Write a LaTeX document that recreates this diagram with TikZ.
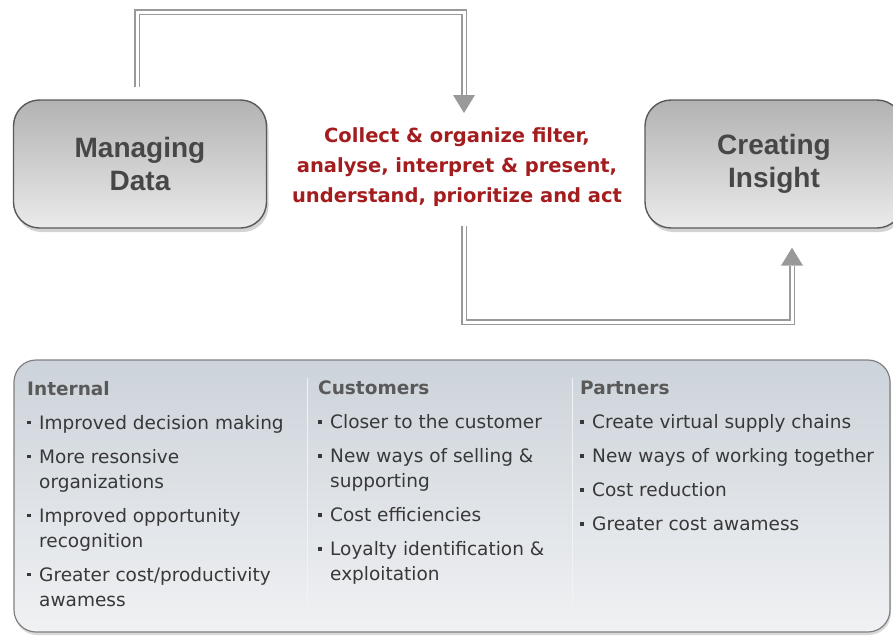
\documentclass[tikz,border=0pt]{standalone}
\usepackage{fontspec}
\setmainfont{Liberation Sans}
\newfontfamily\panelfont{DejaVu Sans}
\usetikzlibrary{calc,shadows}
\definecolor{actred}{RGB}{163,28,30}
\definecolor{paneltop}{RGB}{204,211,218}
\definecolor{panelbot}{RGB}{240,241,243}
\def\bul{\makebox[12pt][l]{\rule[5pt]{3.5pt}{3.5pt}}}
\def\cont{\hspace*{12pt}}

\begin{document}
\begin{tikzpicture}[x=1pt,y=-1pt,
	stagebox/.style={draw=black!65, line width=1.4pt, rounded corners=26pt,
		top color=black!30, bottom color=black!8, minimum width=253pt, minimum height=128pt,
		align=center, font=\bfseries\fontsize{28}{33}\selectfont, text=black!72,
		drop shadow={shadow xshift=2pt, shadow yshift=-4pt, opacity=0.35}},
	pipe/.style={draw=black!40, double=white, double distance=3pt, line width=1.6pt},
	tipgray/.style={fill=black!40},
	colbox/.style={anchor=north west, inner sep=0pt, align=left, text=black!78,
		font=\panelfont\fontsize{18.5}{25}\selectfont}]
			%%%%% START %%%%%
			\useasboundingbox (0,0) rectangle (893,637);
			
			\node[stagebox] (mgmt) at (140,164) {Managing\\Data};
			\node[stagebox, minimum width=258pt] (insight) at (774,164) {Creating\\Insight};
			
			\node[align=center, text=actred, font=\panelfont\bfseries\fontsize{19.5}{30}\selectfont] (proc) at (457,167)
				{Collect \& organize filter,\\analyse, interpret \& present,\\understand, prioritize and act};
			
			% upper connector
			\coordinate (topstart) at ($(mgmt.north)+(-3,-12)$);
			\coordinate (topend) at (464,95);
			\draw[pipe] (topstart) |- (464,12) -- (topend);
			\fill[tipgray] ($(topend)+(-11,0)$) -- ($(topend)+(11,0)$) -- ($(topend)+(0,18)$) -- cycle;
			
			% lower connector
			\coordinate (lowstart) at (464,226);
			\coordinate (lowend) at ($(insight.south -| 792,0)+(0,37)$);
			\draw[pipe] (lowstart) |- (792,322) -- (lowend);
			\fill[tipgray] ($(lowend)+(-11,0)$) -- ($(lowend)+(11,0)$) -- ($(lowend)+(0,-18)$) -- cycle;
			
			% lower panel
			\draw[draw=black!50, line width=1.2pt, rounded corners=22pt, top color=paneltop, bottom color=panelbot,
				drop shadow={shadow xshift=1pt, shadow yshift=-3pt, opacity=0.3}]
				(14,360) rectangle (890,632);
			\draw[line width=1pt, color=white!70!paneltop] (307,378) -- (307,612);
			\draw[line width=1pt, color=white!70!paneltop] (572,378) -- (572,612);
			
			\node[colbox] (internal) at (27,381)
				{\textcolor{black!65}{\bfseries Internal}\\[9pt]
				 \bul Improved decision making\\[9pt]
				 \bul More resonsive\\
				 \cont organizations\\[9pt]
				 \bul Improved opportunity\\
				 \cont recognition\\[9pt]
				 \bul Greater cost/productivity\\
				 \cont awamess};
			\node[colbox] (customers) at (318,381)
				{\textcolor{black!65}{\bfseries Customers}\\[9pt]
				 \bul Closer to the customer\\[9pt]
				 \bul New ways of selling \&\\
				 \cont supporting\\[9pt]
				 \bul Cost efficiencies\\[9pt]
				 \bul Loyalty identification \&\\
				 \cont exploitation};
			\node[colbox] (partners) at (580,381)
				{\textcolor{black!65}{\bfseries Partners}\\[9pt]
				 \bul Create virtual supply chains\\[9pt]
				 \bul New ways of working together\\[9pt]
				 \bul Cost reduction\\[9pt]
				 \bul Greater cost awamess};
			
			%%%%% END %%%%%
\end{tikzpicture}
\end{document}
